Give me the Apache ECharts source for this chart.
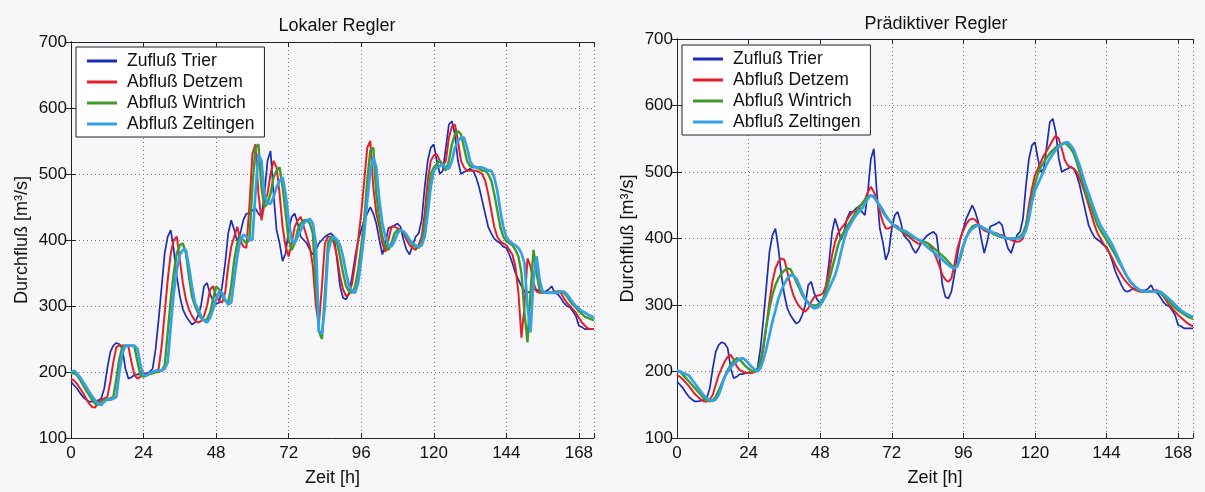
<!DOCTYPE html>
<html>
<head>
<meta charset="utf-8">
<script src="https://cdn.jsdelivr.net/npm/echarts@6/dist/echarts.min.js"></script>
<style>
html, body { margin: 0; padding: 0; background: #f7f7fa; }
#chart { width: 1205px; height: 492px; }
</style>
</head>
<body>
<div id="chart"></div>
<script>
// Stundenwerte 0..173 h
const hours = Array.from({ length: 174 }, (_, i) => i);

const seriesNames = ['Zufluß Trier', 'Abfluß Detzem', 'Abfluß Wintrich', 'Abfluß Zeltingen'];
const xTicks = [0, 24, 48, 72, 96, 120, 144, 168];
const yTicks = [100, 200, 300, 400, 500, 600, 700];

// Zufluss Trier (gleich in beiden Diagrammen)
const trier = [185,180,175,168,162,158,155,155,156,157,160,175,205,230,240,244,242,235,205,190,
  192,196,196,198,198,198,200,205,235,280,330,380,405,415,385,345,315,295,285,278,
  272,275,285,300,330,335,318,308,303,305,330,365,410,430,415,398,410,430,440,440,
  445,448,440,435,470,520,535,470,415,395,368,380,415,435,440,425,405,400,395,385,
  378,385,395,400,405,408,410,405,370,330,312,310,320,345,375,400,415,430,440,450,
  440,425,400,378,395,418,420,422,425,420,400,385,378,392,405,410,430,480,520,540,
  545,520,500,505,540,575,580,560,520,500,503,505,508,505,495,480,460,440,420,410,
  402,398,395,390,388,378,365,350,340,330,322,320,322,325,325,323,322,322,325,330,
  320,318,312,305,300,298,292,285,270,268,265,265,265,265];

// Lokaler Regler
const lokalDetzem = [190,187,182,175,168,160,152,147,146,155,158,160,162,185,215,238,240,240,240,238,
  215,195,190,193,196,197,198,198,200,205,240,290,340,380,400,405,370,335,310,295,
  285,278,275,277,285,300,325,330,315,308,305,320,360,390,405,420,400,390,388,450,
  530,545,470,430,455,470,500,520,510,470,420,390,375,395,420,430,435,420,405,390,
  360,300,272,330,395,405,405,395,375,345,325,315,318,335,365,400,440,490,540,550,
  480,440,420,395,382,400,420,420,418,415,410,400,392,388,385,392,405,440,490,520,
  528,530,520,512,520,555,572,575,550,520,510,505,505,505,505,503,500,490,470,445,
  420,405,398,395,392,385,378,360,320,252,300,372,360,335,322,320,320,320,320,320,
  322,322,320,312,305,300,295,290,282,275,270,266,265,265];
const lokalWintrich = [198,198,195,188,180,172,165,158,152,150,155,158,158,160,162,190,220,238,240,240,
  240,238,215,195,193,195,197,198,200,200,202,210,260,310,350,380,392,395,380,345,
  315,300,290,282,278,280,290,310,330,325,315,308,305,330,370,395,405,400,395,400,
  480,540,545,480,450,455,470,495,505,510,480,440,400,385,395,415,425,430,430,425,
  410,330,262,250,320,395,405,400,395,375,350,330,322,320,330,355,390,430,490,535,
  540,470,430,405,390,385,395,410,415,415,412,405,398,392,390,388,395,420,460,500,
  510,515,520,515,505,520,545,560,565,560,540,520,512,510,510,508,505,505,500,490,
  470,445,420,405,398,395,392,385,375,350,290,245,320,385,350,325,320,320,320,320,
  320,322,322,320,315,308,302,298,292,288,284,282,280,278];
const lokalZeltingen = [200,202,198,192,185,178,170,163,157,152,150,155,158,158,160,162,200,228,240,240,
  240,240,235,210,195,195,198,200,202,202,202,205,215,270,320,355,378,385,385,360,
  330,305,295,285,278,275,282,295,310,322,320,310,302,305,340,375,400,408,405,400,
  400,470,530,520,470,455,455,465,480,490,495,470,430,400,395,405,415,425,430,432,
  425,395,262,258,300,380,400,405,400,392,375,350,330,322,320,335,370,410,460,505,
  525,510,460,425,405,392,390,398,410,415,413,408,400,395,392,390,392,405,440,480,
  505,510,512,515,510,508,520,540,550,555,555,540,520,512,510,510,510,508,505,505,
  495,475,445,420,405,398,395,392,388,380,365,300,260,340,375,340,322,320,320,320,
  320,320,322,322,318,312,305,300,296,292,290,287,285,282];

// Praediktiver Regler
const praedDetzem = [195,192,188,183,178,172,166,162,158,155,155,158,165,180,195,205,215,222,225,218,
  208,202,200,198,198,198,199,202,212,235,270,305,335,355,365,370,368,350,330,315,
  305,298,293,290,295,305,312,314,315,318,330,350,375,395,408,415,420,428,435,440,
  442,448,452,458,470,478,470,458,440,425,415,415,418,420,418,412,408,405,402,398,
  395,392,393,395,393,388,380,370,358,345,338,335,340,360,385,400,412,422,428,430,
  428,422,416,412,410,410,408,408,406,405,402,400,398,396,395,396,400,420,450,475,
  495,505,515,525,532,540,548,555,550,535,518,510,507,505,500,490,478,465,450,435,
  420,408,400,392,385,378,370,360,352,345,338,333,328,324,322,320,320,320,320,320,
  322,322,320,314,307,300,295,290,285,281,277,273,270,268];
const praedWintrich = [200,200,195,190,185,180,175,170,165,160,157,155,157,162,172,182,192,202,210,216,
  220,218,213,208,204,201,200,203,215,240,270,295,315,330,340,347,352,355,354,345,
  335,325,315,308,304,300,299,300,303,310,322,338,355,372,390,402,410,418,425,432,
  440,447,452,458,463,465,462,456,450,443,435,428,422,418,415,412,410,408,405,402,
  400,398,396,395,393,390,386,382,378,374,370,365,360,356,358,370,388,402,412,418,
  420,420,418,415,412,410,407,405,403,402,401,400,400,400,401,403,408,420,440,462,
  482,497,508,515,522,528,533,537,540,542,544,540,535,528,515,500,485,470,457,445,
  432,420,412,405,398,390,383,375,366,358,350,342,335,330,326,322,320,320,320,320,
  320,320,318,314,310,306,300,296,292,289,286,283,281,279];
const praedZeltingen = [202,200,198,196,194,188,182,176,170,164,160,157,156,158,165,178,192,200,206,211,
  215,219,220,217,212,207,203,200,205,218,235,255,275,292,310,322,332,340,345,344,
  340,330,318,310,303,298,295,296,300,307,315,325,335,345,360,380,398,412,420,428,
  435,440,445,452,460,465,463,456,448,440,433,428,423,419,416,414,412,410,407,404,
  401,398,395,391,387,383,380,376,372,368,364,360,357,355,360,375,390,402,410,415,
  418,420,418,415,413,411,409,407,405,403,401,400,400,400,400,400,404,412,430,455,
  472,482,492,502,512,520,527,533,538,541,544,545,540,534,522,510,495,480,468,455,
  442,430,420,412,405,398,390,380,370,360,350,342,335,330,326,323,321,320,320,320,
  320,320,320,317,313,309,305,300,296,292,289,286,284,282];

const colors = ['#1c2cb4', '#e3202a', '#3f9a2a', '#34a0e6'];
const widths = [1.7, 2, 2.4, 2.7];
const fontFamily = '"Liberation Sans", Arial, sans-serif';

const chart = echarts.init(document.getElementById('chart'));

function makeSeries(gridIdx, values) {
  return values.map((vals, k) => ({
    name: seriesNames[k],
    type: 'line',
    xAxisIndex: gridIdx,
    yAxisIndex: gridIdx,
    data: hours.map((h, i) => [h, vals[i]]),
    symbol: 'none',
    z: 3 + k,
    lineStyle: { color: colors[k], width: widths[k] },
    itemStyle: { color: colors[k] },
  }));
}

function bottomAxis(g) {
  return {
    type: 'value', gridIndex: g, min: 0, max: 173, interval: 24,
    name: 'Zeit [h]', nameLocation: 'middle', nameGap: 31,
    nameTextStyle: { fontSize: 18, color: '#111', fontFamily },
    axisLine: { lineStyle: { color: '#222', width: 1 } },
    axisTick: { inside: true, length: 5, lineStyle: { color: '#222' } },
    axisLabel: {
      fontSize: 17, color: '#111', fontFamily, margin: 7,
      formatter: (v) => (xTicks.includes(v) ? String(v) : ''),
    },
    splitLine: { show: true, lineStyle: { type: [1, 3], color: '#777', width: 1 } },
  };
}
function topAxis(g) {
  return {
    type: 'value', gridIndex: g, position: 'top', min: 0, max: 173, interval: 24,
    axisLine: { lineStyle: { color: '#222', width: 1 } },
    axisTick: { inside: true, length: 5, lineStyle: { color: '#222' } },
    axisLabel: { show: false },
    splitLine: { show: false },
  };
}
function leftAxis(g) {
  return {
    type: 'value', gridIndex: g, min: 100, max: 700, interval: 100,
    name: 'Durchfluß [m³/s]', nameLocation: 'middle', nameGap: 40,
    nameTextStyle: { fontSize: 18, color: '#111', fontFamily },
    axisLine: { show: true, lineStyle: { color: '#222', width: 1 } },
    axisTick: { show: true, inside: true, length: 5, lineStyle: { color: '#222' } },
    axisLabel: {
      fontSize: 17, color: '#111', fontFamily, margin: 4,
      formatter: (v) => (yTicks.includes(v) ? String(v) : ''),
    },
    splitLine: { show: true, lineStyle: { type: [1, 3], color: '#777', width: 1 } },
  };
}
function rightAxis(g) {
  return {
    type: 'value', gridIndex: g, position: 'right', min: 100, max: 700, interval: 100,
    axisLine: { show: true, lineStyle: { color: '#222', width: 1 } },
    axisTick: { show: true, inside: true, length: 5, lineStyle: { color: '#222' } },
    axisLabel: { show: false },
    splitLine: { show: false },
  };
}

function legendAt(left, top) {
  return {
    orient: 'vertical', left, top,
    data: seriesNames,
    icon: 'path://M0,0 L10,0 L10,1 L0,1 Z',
    itemWidth: 34, itemHeight: 3, itemGap: 3,
    padding: [5, 10, 4, 11],
    backgroundColor: '#fff', borderColor: '#222', borderWidth: 1,
    textStyle: { fontSize: 17.5, color: '#111', fontFamily, padding: [0, 0, 0, 3] },
    selectedMode: false,
  };
}

chart.setOption({
  animation: false,
  backgroundColor: '#f7f7fa',
  title: [
    { text: 'Lokaler Regler', left: 332, top: 12, textAlign: 'center',
      textStyle: { fontSize: 18, fontWeight: 'normal', color: '#111', fontFamily } },
    { text: 'Prädiktiver Regler', left: 931, top: 10, textAlign: 'center',
      textStyle: { fontSize: 18, fontWeight: 'normal', color: '#111', fontFamily } },
  ],
  legend: [legendAt(76, 47), legendAt(682, 45)],
  grid: [
    { left: 71, top: 42, width: 523, height: 408 },
    { left: 677, top: 39, width: 516, height: 405 },
  ],
  xAxis: [bottomAxis(0), bottomAxis(1), topAxis(0), topAxis(1)],
  yAxis: [leftAxis(0), leftAxis(1), rightAxis(0), rightAxis(1)],
  series: [
    ...makeSeries(0, [trier, lokalDetzem, lokalWintrich, lokalZeltingen]),
    ...makeSeries(1, [trier, praedDetzem, praedWintrich, praedZeltingen]),
  ],
});
</script>
</body>
</html>
